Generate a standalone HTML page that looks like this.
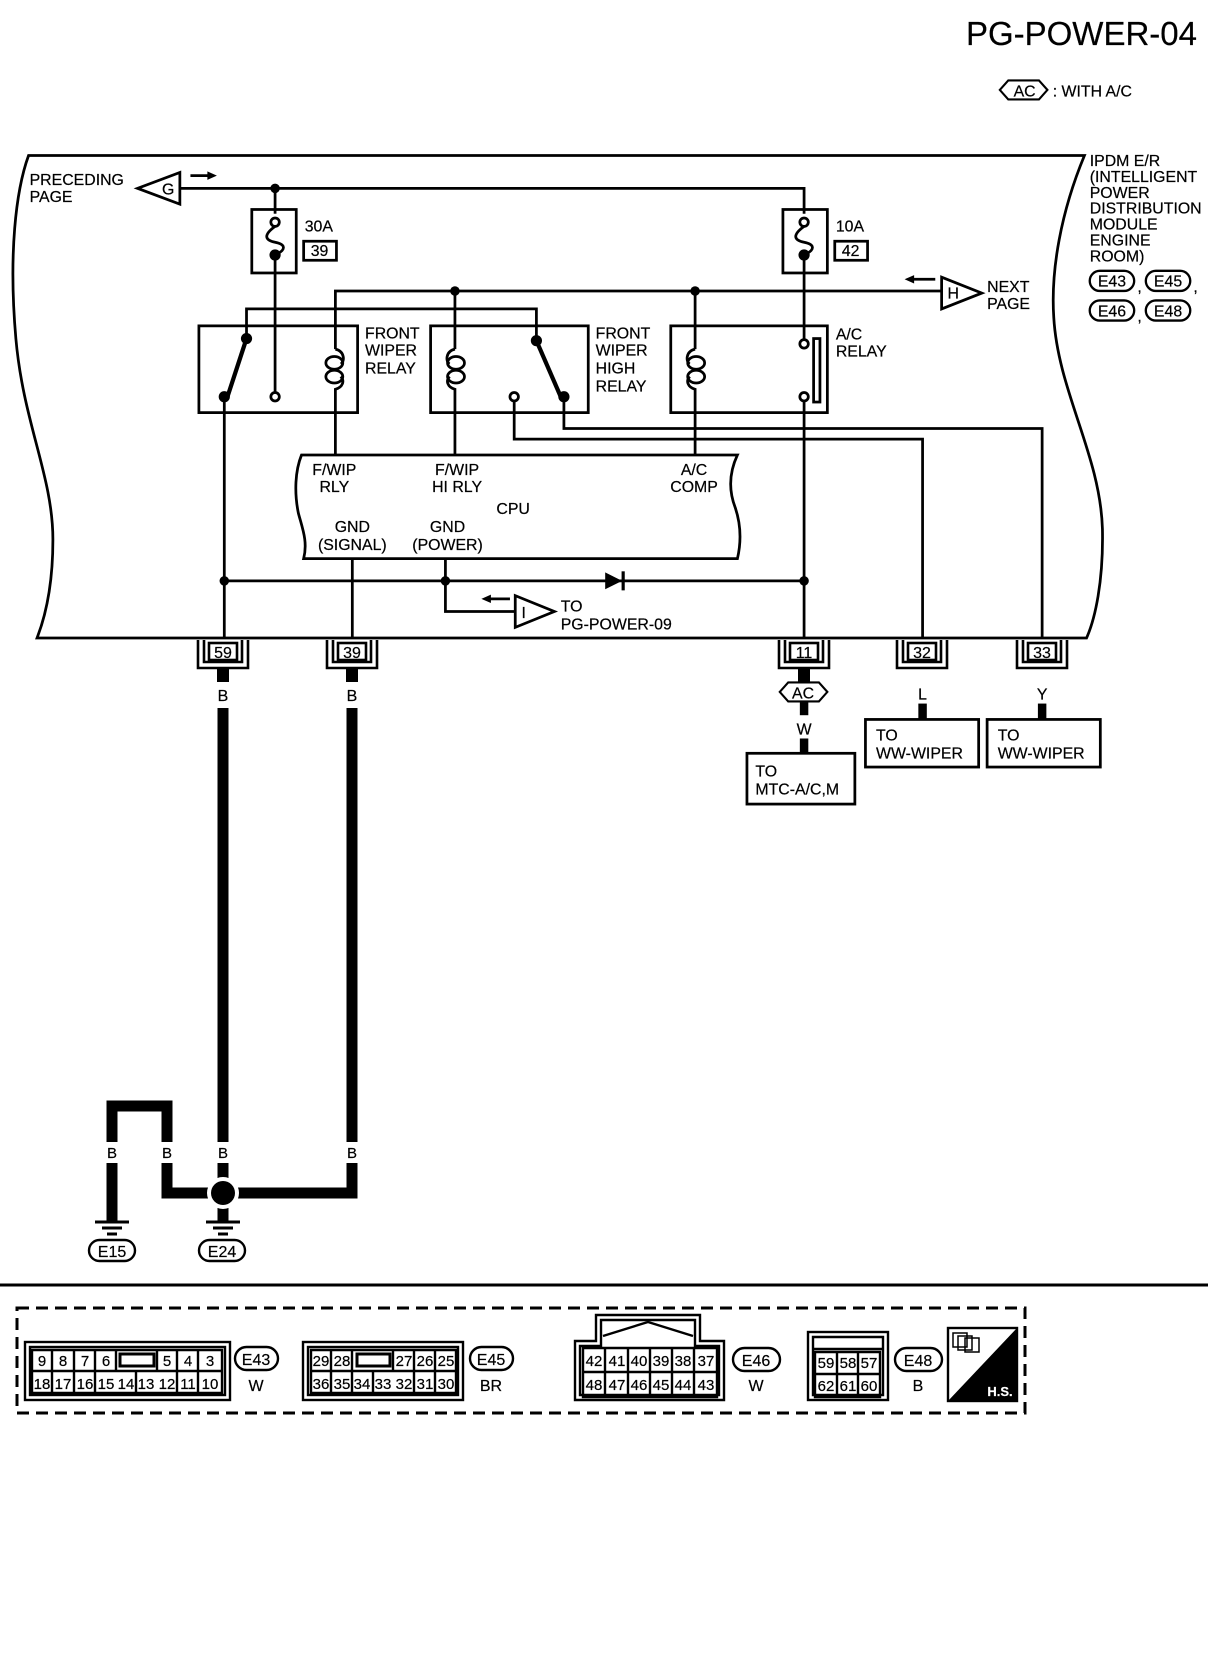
<!DOCTYPE html>
<html><head><meta charset="utf-8"><style>
html,body{margin:0;padding:0;background:#fff;}
svg{display:block;}
text{font-family:"Liberation Sans",Arial,sans-serif;fill:#000;stroke:#000;stroke-width:0.2px;}
</style></head><body>
<svg width="1216" height="1660" viewBox="0 0 1216 1660" xmlns="http://www.w3.org/2000/svg">
<rect width="1216" height="1660" fill="#fff"/>
<text x="1197" y="45" font-size="33" text-anchor="end">PG-POWER-04</text>

<g transform="scale(1.058)" stroke="#000" stroke-width="2.6" fill="none">
<path d="M945,85 L953,76 L982,76 L990,85 L982,94 L953,94 Z" stroke-width="2"/>
<g stroke="none" fill="#000" font-size="15"><text x="958" y="91">AC</text><text x="995" y="91">: WITH A/C</text></g>

<path d="M27,147 L1025,147 C1003,200 993,255 996,300 C1000,370 1040,430 1042,500 C1043,550 1035,585 1027,603 L35,603 C42,585 50,555 50,510 C50,450 22,400 15,320 C8,240 15,180 27,147 Z"/>

<g stroke="none" fill="#000" font-size="15">
<text x="28" y="175">PRECEDING</text><text x="28" y="191">PAGE</text>
<text x="1030" y="157">IPDM E/R</text><text x="1030" y="172">(INTELLIGENT</text><text x="1030" y="187">POWER</text><text x="1030" y="202">DISTRIBUTION</text><text x="1030" y="217">MODULE</text><text x="1030" y="232">ENGINE</text><text x="1030" y="247">ROOM)</text>
<text x="933" y="276">NEXT</text><text x="933" y="292">PAGE</text>
<text x="345" y="320">FRONT</text><text x="345" y="336">WIPER</text><text x="345" y="353">RELAY</text>
<text x="563" y="320">FRONT</text><text x="563" y="336">WIPER</text><text x="563" y="353">HIGH</text><text x="563" y="370">RELAY</text>
<text x="790" y="321">A/C</text><text x="790" y="337">RELAY</text>
<text x="288" y="219">30A</text><text x="790" y="219">10A</text>
<text x="302" y="242" text-anchor="middle">39</text><text x="804" y="242" text-anchor="middle">42</text>
<text x="316" y="449" text-anchor="middle">F/WIP</text><text x="316" y="465" text-anchor="middle">RLY</text>
<text x="432" y="449" text-anchor="middle">F/WIP</text><text x="432" y="465" text-anchor="middle">HI RLY</text>
<text x="656" y="449" text-anchor="middle">A/C</text><text x="656" y="465" text-anchor="middle">COMP</text>
<text x="485" y="486" text-anchor="middle">CPU</text>
<text x="333" y="503" text-anchor="middle">GND</text><text x="333" y="520" text-anchor="middle">(SIGNAL)</text>
<text x="423" y="503" text-anchor="middle">GND</text><text x="423" y="520" text-anchor="middle">(POWER)</text>
<text x="530" y="578">TO</text><text x="530" y="595">PG-POWER-09</text>
<text x="159" y="184" text-anchor="middle">G</text>
<text x="901" y="282" text-anchor="middle">H</text>
<text x="495" y="584" text-anchor="middle">I</text>
</g>

<path d="M170,163 L170,193 L130,178 Z"/>
<path d="M180,166 H198" /><path d="M196,162 L205,166 L196,170 Z" fill="#000" stroke="none"/>
<path d="M890,262 L890,292 L928,277 Z"/>
<path d="M862,264 H884"/><path d="M864,260 L855,264 L864,268 Z" fill="#000" stroke="none"/>
<path d="M487,563 L487,593 L524,578 Z"/>
<path d="M462,566 H482"/><path d="M464,562 L455,566 L464,570 Z" fill="#000" stroke="none"/>

<path d="M170,178 H760 V202"/>
<path d="M260,178 V202"/>
<path d="M260,246 V371"/>
<path d="M760,246 V321"/>
<rect x="238" y="198" width="42" height="60"/>
<rect x="740" y="198" width="42" height="60"/>
<rect x="287" y="228" width="31" height="18"/>
<rect x="789" y="228" width="31" height="18"/>
<path d="M260,214 C249,222 250,227 260,229 C270,231 271,236 260,241"/>
<path d="M760,214 C749,222 750,227 760,229 C770,231 771,236 760,241"/>
<circle cx="260" cy="210" r="4" fill="#fff"/><circle cx="260" cy="241" r="4" fill="#000"/>
<circle cx="760" cy="210" r="4" fill="#fff"/><circle cx="760" cy="241" r="4" fill="#000"/>

<path d="M317,330 V275 H890"/>
<path d="M430,275 V330"/>
<path d="M657,275 V330"/>
<path d="M233,320 V292 H507 V322"/>

<rect x="188" y="308" width="150" height="82"/>
<rect x="407" y="308" width="149" height="82"/>
<rect x="634" y="308" width="148" height="82"/>

<path d="M233,320 L215,375" stroke-width="4"/>
<circle cx="233" cy="320" r="4" fill="#000"/><circle cx="212" cy="375" r="4" fill="#000"/>
<circle cx="260" cy="375" r="4" fill="#fff"/>
<path d="M507,322 L530,375" stroke-width="4"/>
<circle cx="507" cy="322" r="4" fill="#000"/><circle cx="533" cy="375" r="4" fill="#000"/>
<circle cx="486" cy="375" r="4" fill="#fff"/>

<path d="M317,330 C326,332 326,342 322,344 M322,356 C326,360 324,366 317,368 V430"/>
<ellipse cx="316" cy="343" rx="8" ry="6"/><ellipse cx="316" cy="356" rx="8" ry="6"/>
<path d="M430,330 C421,332 421,342 425,344 M425,356 C421,360 423,366 430,368 V430"/>
<ellipse cx="431" cy="343" rx="8" ry="6"/><ellipse cx="431" cy="356" rx="8" ry="6"/>
<path d="M657,330 C648,332 648,342 652,344 M652,356 C648,360 650,366 657,368 V430"/>
<ellipse cx="658" cy="343" rx="8" ry="6"/><ellipse cx="658" cy="356" rx="8" ry="6"/>

<circle cx="760" cy="325" r="4" fill="#fff"/><circle cx="760" cy="375" r="4" fill="#fff"/>
<rect x="769" y="320" width="6" height="60"/>
<path d="M760,379 V603"/>

<path d="M212,379 V603"/>
<path d="M533,379 V405 H985 V603"/>
<path d="M486,379 V415 H872 V603"/>

<path d="M285,430 L697,430 C690,445 688,462 695,480 C701,498 700,515 697,528 L287,528 C291,512 286,500 282,485 C278,465 279,445 285,430 Z"/>
<path d="M333,528 V603"/>
<path d="M421,528 V578 H487"/>
<path d="M212,549 H760"/>
<path d="M572,541 L572,557 L588,549 Z" fill="#000" stroke="none"/>
<path d="M589,540 V558" stroke-width="3"/>
<g fill="#000" stroke="none">
<circle cx="260" cy="178" r="4.5"/><circle cx="430" cy="275" r="4.5"/><circle cx="657" cy="275" r="4.5"/>
<circle cx="212" cy="549" r="4.5"/><circle cx="421" cy="549" r="4.5"/><circle cx="760" cy="549" r="4.5"/>
</g>

<g stroke-width="2.2">
<rect x="1030" y="256" width="42" height="19" rx="9.5"/><rect x="1083" y="256" width="42" height="19" rx="9.5"/>
<rect x="1030" y="284" width="42" height="19" rx="9.5"/><rect x="1083" y="284" width="42" height="19" rx="9.5"/>
</g>
<g stroke="none" fill="#000" font-size="15">
<text x="1051" y="271" text-anchor="middle">E43</text><text x="1104" y="271" text-anchor="middle">E45</text>
<text x="1051" y="299" text-anchor="middle">E46</text><text x="1104" y="299" text-anchor="middle">E48</text>
<text x="1075" y="276">,</text><text x="1128" y="276">,</text><text x="1075" y="304">,</text>
</g>

<path d="M737,654 L745,645 L774,645 L782,654 L774,663 L745,663 Z" stroke-width="2" fill="#fff"/>
<rect x="756" y="664" width="8" height="12" fill="#000" stroke="none"/>
<rect x="756" y="698" width="8" height="14" fill="#000" stroke="none"/>
<rect x="706" y="712" width="102" height="48"/>
<rect x="868" y="665" width="8" height="15" fill="#000" stroke="none"/>
<rect x="818" y="680" width="107" height="45"/>
<rect x="981" y="665" width="8" height="15" fill="#000" stroke="none"/>
<rect x="933" y="680" width="107" height="45"/>
<g stroke="none" fill="#000" font-size="15">
<text x="759" y="660" text-anchor="middle">AC</text>
<text x="760" y="694" text-anchor="middle">W</text>
<text x="714" y="734">TO</text><text x="714" y="751">MTC-A/C,M</text>
<text x="872" y="661" text-anchor="middle">L</text>
<text x="985" y="661" text-anchor="middle">Y</text>
<text x="828" y="700">TO</text><text x="828" y="717">WW-WIPER</text>
<text x="943" y="700">TO</text><text x="943" y="717">WW-WIPER</text>
</g>
</g>

<g stroke="#000" fill="none" stroke-width="2.6">
<path d="M198,640 V668 H248 V640 M204,640 V662 H242 V640"/><rect x="209" y="643" width="28" height="17"/>
<path d="M327,640 V668 H377 V640 M333,640 V662 H371 V640"/><rect x="338" y="643" width="28" height="17"/>
<path d="M779,640 V668 H829 V640 M785,640 V662 H823 V640"/><rect x="790" y="643" width="28" height="17"/>
<path d="M897,640 V668 H947 V640 M903,640 V662 H941 V640"/><rect x="908" y="643" width="28" height="17"/>
<path d="M1017,640 V668 H1067 V640 M1023,640 V662 H1061 V640"/><rect x="1028" y="643" width="28" height="17"/>
</g>
<g fill="#000">
<rect x="217" y="668" width="12" height="14"/><rect x="346" y="668" width="12" height="14"/><rect x="798" y="668" width="12" height="14"/>
</g>
<g font-size="16" text-anchor="middle">
<text x="223" y="658">59</text><text x="352" y="658">39</text><text x="804" y="658">11</text><text x="922" y="658">32</text><text x="1042" y="658">33</text>
<text x="223" y="701">B</text><text x="352" y="701">B</text>
</g>

<g stroke="#000" stroke-width="11" fill="none">
<path d="M223,708 V1142"/><path d="M352,708 V1142"/>
<path d="M112,1142 V1106 H167 V1142"/>
<path d="M112,1163 V1222"/>
<path d="M167,1163 V1193 H352 V1163"/>
<path d="M223,1163 V1180"/>
<path d="M223,1205 V1222"/>
</g>
<circle cx="223" cy="1193" r="16" fill="#fff"/>
<circle cx="223" cy="1193" r="12" fill="#000"/>
<g stroke="#000" stroke-width="3">
<path d="M95,1222 H129 M102,1228 H122 M107,1234 H117"/>
<path d="M206,1222 H240 M213,1228 H233 M218,1234 H228"/>
</g>
<g font-size="15" text-anchor="middle">
<text x="112" y="1158">B</text><text x="167" y="1158">B</text><text x="223" y="1158">B</text><text x="352" y="1158">B</text>
</g>
<g stroke="#000" stroke-width="2.4" fill="none">
<rect x="89" y="1240" width="46" height="21" rx="10.5"/><rect x="199" y="1240" width="46" height="21" rx="10.5"/>
</g>
<g font-size="16" text-anchor="middle"><text x="112" y="1257">E15</text><text x="222" y="1257">E24</text></g>

<path d="M0,1285 H1208" stroke="#000" stroke-width="3"/>
<rect x="17" y="1308" width="1008" height="105" fill="none" stroke="#000" stroke-width="3" stroke-dasharray="12,7"/>

<g stroke="#000" fill="none" stroke-width="2.4">
<rect x="25" y="1342" width="205" height="58"/><rect x="30" y="1347" width="195" height="48"/>
<path d="M32,1350 H222 V1393 H32 Z M32,1371 H222"/>
<path d="M52,1350 V1393 M74,1350 V1393 M95,1350 V1393 M116,1350 V1371 M157,1350 V1371 M177,1350 V1393 M198,1350 V1393 M136,1371 V1393"/>
<rect x="120" y="1354" width="34" height="12" stroke-width="3"/>
<rect x="235" y="1347" width="43" height="23" rx="11.5"/>
<rect x="303" y="1342" width="160" height="58"/><rect x="308" y="1347" width="150" height="48"/>
<path d="M311,1350 H456 V1393 H311 Z M311,1371 H456"/>
<path d="M331,1350 V1393 M352,1350 V1393 M393,1350 V1371 M414,1350 V1393 M435,1350 V1393 M373,1371 V1393"/>
<rect x="357" y="1354" width="33" height="12" stroke-width="3"/>
<rect x="470" y="1347" width="43" height="23" rx="11.5"/>
<path d="M575,1400 V1341 H596 V1315 H700 V1341 H724 V1400 Z"/>
<path d="M580,1395 V1346 H601 V1320 H695 V1346 H719 V1395 Z"/>
<path d="M603,1336 L648,1322 L693,1336"/>
<path d="M583,1348 H717 V1397 H583 Z M583,1372 H717"/>
<path d="M605,1348 V1397 M628,1348 V1397 M650,1348 V1397 M672,1348 V1397 M694,1348 V1397"/>
<rect x="733" y="1348" width="47" height="23" rx="11.5"/>
<rect x="808" y="1332" width="80" height="68"/>
<path d="M813,1337 H883 V1395 H813 Z M813,1349 H883"/>
<path d="M815,1352 H880 V1397 H815 Z M815,1374 H880 M837,1352 V1397 M858,1352 V1397"/>
<rect x="895" y="1348" width="47" height="23" rx="11.5"/>
</g>
<g font-size="15" text-anchor="middle">
<text x="42" y="1366">9</text><text x="63" y="1366">8</text><text x="85" y="1366">7</text><text x="106" y="1366">6</text><text x="167" y="1366">5</text><text x="188" y="1366">4</text><text x="210" y="1366">3</text>
<text x="42" y="1389">18</text><text x="63" y="1389">17</text><text x="85" y="1389">16</text><text x="106" y="1389">15</text><text x="126" y="1389">14</text><text x="146" y="1389">13</text><text x="167" y="1389">12</text><text x="188" y="1389">11</text><text x="210" y="1389">10</text>
<text x="321" y="1366">29</text><text x="342" y="1366">28</text><text x="404" y="1366">27</text><text x="425" y="1366">26</text><text x="446" y="1366">25</text>
<text x="321" y="1389">36</text><text x="342" y="1389">35</text><text x="362" y="1389">34</text><text x="383" y="1389">33</text><text x="404" y="1389">32</text><text x="425" y="1389">31</text><text x="446" y="1389">30</text>
<text x="594" y="1366">42</text><text x="617" y="1366">41</text><text x="639" y="1366">40</text><text x="661" y="1366">39</text><text x="683" y="1366">38</text><text x="706" y="1366">37</text>
<text x="594" y="1390">48</text><text x="617" y="1390">47</text><text x="639" y="1390">46</text><text x="661" y="1390">45</text><text x="683" y="1390">44</text><text x="706" y="1390">43</text>
<text x="826" y="1368">59</text><text x="848" y="1368">58</text><text x="869" y="1368">57</text>
<text x="826" y="1391">62</text><text x="848" y="1391">61</text><text x="869" y="1391">60</text>
</g>
<g font-size="16" text-anchor="middle">
<text x="256" y="1365">E43</text><text x="256" y="1391">W</text>
<text x="491" y="1365">E45</text><text x="491" y="1391">BR</text>
<text x="756" y="1366">E46</text><text x="756" y="1391">W</text>
<text x="918" y="1366">E48</text><text x="918" y="1391">B</text>
</g>
<rect x="948" y="1328" width="69" height="73" fill="#fff" stroke="#000" stroke-width="2.4"/>
<path d="M1017,1328 L948,1401 H1017 Z" fill="#000"/>
<g stroke="#000" stroke-width="1.5" fill="none"><rect x="953" y="1333" width="14" height="14"/><rect x="958" y="1336" width="14" height="14"/><rect x="965" y="1338" width="14" height="14"/></g>
<text x="1000" y="1396" font-size="13" font-weight="bold" text-anchor="middle" style="fill:#fff;stroke:#fff">H.S.</text>
</svg>
</body></html>
